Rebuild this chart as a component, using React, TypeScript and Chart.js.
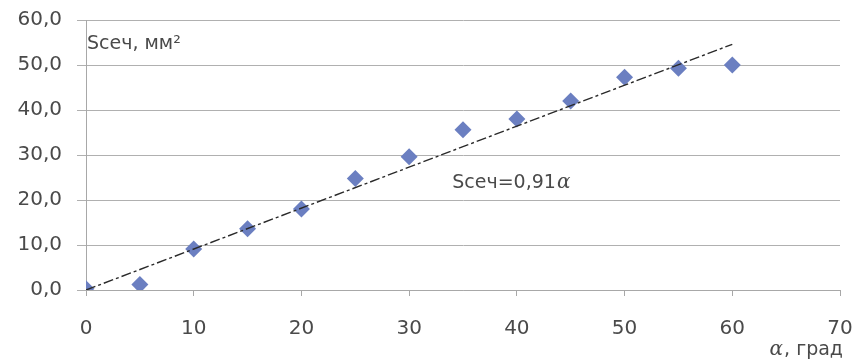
import { useEffect, useRef } from 'react';
import { Chart, registerables } from 'chart.js';

Chart.register(...registerables);

const angles = [0, 5, 10, 15, 20, 25, 30, 35, 40, 45, 50, 55, 60];
const areas = [0.3, 1.2, 9.1, 13.6, 18.0, 24.8, 29.6, 35.6, 38.0, 42.0, 47.3, 49.3, 50.0];
const trendSlope = 0.91;
const trendX = [0, 60];
const xRange = [0, 70];
const yRange = [0, 60];
const yTitle = 'Sceч, мм²';
const xTitle = ', град';
const trendLabel = 'Sceч=0,91';

const FONT = '"DejaVu Sans", sans-serif';
const TEXT = '#4a4a4a';

const annotations = {
  id: 'annotations',
  afterDraw(chart: any) {
    const { ctx, scales } = chart;
    const x = scales.x;
    const y = scales.y;
    ctx.save();
    ctx.fillStyle = TEXT;
    ctx.textBaseline = 'middle';
    ctx.textAlign = 'left';
    // y title
    ctx.font = `19px ${FONT}`;
    ctx.fillText(yTitle, x.getPixelForValue(0) + 1, y.getPixelForValue(54.7));
    // trend label
    const tx = x.getPixelForValue(34.0);
    const ty = y.getPixelForValue(23.8);
    ctx.fillText(trendLabel, tx, ty);
    const w1 = ctx.measureText(trendLabel).width;
    ctx.font = `italic 20px "DejaVu Serif", serif`;
    ctx.fillText('α', tx + w1 + 1, ty);
    // x title
    const right = x.right + 3;
    const by = 350;
    ctx.font = `19px ${FONT}`;
    const w2 = ctx.measureText(xTitle).width;
    ctx.fillText(xTitle, right - w2, by);
    ctx.font = `italic 20px "DejaVu Serif", serif`;
    const wa = ctx.measureText('α').width;
    ctx.fillText('α', right - w2 - wa - 1, by);
    ctx.restore();
  },
};

export default function App() {
  const ref = useRef<HTMLCanvasElement>(null);
  useEffect(() => {
    if (!ref.current) return;
    const chart = new Chart(ref.current, {
      type: 'scatter',
      data: {
        datasets: [
          {
            type: 'line',
            data: trendX.map((v) => ({ x: v, y: v * trendSlope })),
            borderColor: '#2a2a2a',
            borderWidth: 1.4,
            borderDash: [10, 3, 3, 3],
            pointRadius: 0,
            fill: false,
          } as any,
          {
            data: angles.map((a, i) => ({ x: a, y: areas[i] })),
            pointStyle: 'rectRot',
            pointRadius: 8.5,
            backgroundColor: '#6b7fc1',
            borderColor: '#6b7fc1',
            borderWidth: 0,
          },
        ],
      },
      options: {
        animation: false,
        responsive: true,
        maintainAspectRatio: false,
        layout: { padding: { top: 20, right: 16, left: 0, bottom: 0 } },
        plugins: { legend: { display: false }, tooltip: { enabled: false } },
        scales: {
          x: {
            type: 'linear',
            min: xRange[0],
            max: xRange[1],
            afterFit: (s: any) => {
              s.height = 73;
              s.paddingLeft = 0;
              s.paddingRight = 0;
            },
            ticks: {
              stepSize: 10,
              color: TEXT,
              font: { family: FONT, size: 20 },
              padding: 21,
              maxRotation: 0,
            },
            grid: {
              drawOnChartArea: false,
              color: '#a8a8a8',
              tickLength: 6,
            },
            border: { color: '#a8a8a8', width: 1 },
          },
          y: {
            type: 'linear',
            min: yRange[0],
            max: yRange[1],
            afterFit: (s: any) => {
              s.width = 86;
              s.paddingTop = 0;
              s.paddingBottom = 0;
            },
            ticks: {
              stepSize: 10,
              color: TEXT,
              font: { family: FONT, size: 20 },
              padding: 15,
              callback: (v: any) => Number(v).toFixed(1).replace('.', ','),
            },
            grid: { color: '#b0b0b0', tickLength: 9 },
            border: { color: '#a8a8a8', width: 1 },
          },
        },
      },
      plugins: [annotations],
    });
    return () => chart.destroy();
  }, []);
  return (
    <div style={{ position: 'fixed', left: 0, top: 0, width: 856, height: 363, background: '#fff' }}>
      <canvas ref={ref} />
    </div>
  );
}
